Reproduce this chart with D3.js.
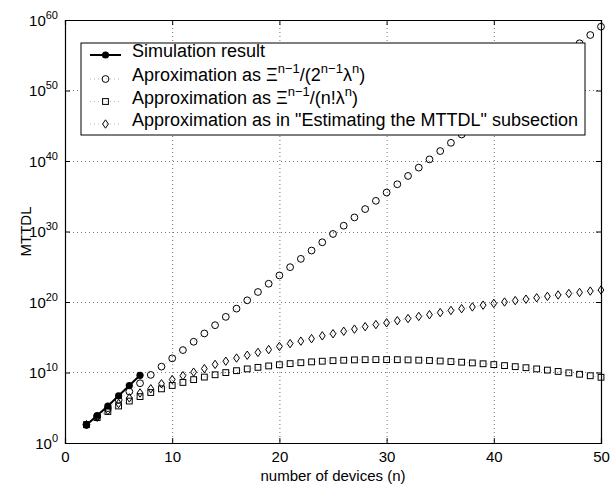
<!DOCTYPE html>
<html>
<head>
<meta charset="utf-8">
<script src="https://cdn.jsdelivr.net/npm/d3@7/dist/d3.min.js"></script>
<style>
  body { margin: 0; background: #fff; }
  svg { display: block; font-family: "Liberation Sans", Arial, Helvetica, sans-serif; }
</style>
</head>
<body>
<svg id="chart" width="610" height="485"></svg>
<script>
// number of devices
const simN = [2, 3, 4, 5, 6, 7];
const approxN = [2, 3, 4, 5, 6, 7, 8, 9, 10, 11, 12, 13, 14, 15, 16, 17, 18, 19, 20,
  21, 22, 23, 24, 25, 26, 27, 28, 29, 30, 31, 32, 33, 34, 35, 36, 37, 38, 39, 40,
  41, 42, 43, 44, 45, 46, 47, 48, 49, 50];

// MTTDL, as powers of ten
const simExp = [2.55, 3.9, 5.25, 6.7, 8.15, 9.6];
const circleExp = [2.60, 3.78, 4.95, 6.13, 7.30, 8.48, 9.66, 10.83, 12.01, 13.18, 14.36,
  15.54, 16.71, 17.89, 19.06, 20.24, 21.42, 22.59, 23.77, 24.94, 26.12, 27.30, 28.47,
  29.65, 30.82, 32.00, 33.18, 34.35, 35.53, 36.70, 37.88, 39.06, 40.23, 41.41, 42.58,
  43.76, 44.94, 46.11, 47.29, 48.46, 49.64, 50.82, 51.99, 53.17, 54.34, 55.52, 56.70,
  57.87, 59.05];
const squareExp = [2.60, 3.60, 4.47, 5.25, 5.95, 6.58, 7.16, 7.68, 8.16, 8.59, 8.99,
  9.35, 9.68, 9.99, 10.26, 10.51, 10.73, 10.93, 11.10, 11.26, 11.39, 11.51, 11.60,
  11.68, 11.74, 11.79, 11.82, 11.83, 11.83, 11.82, 11.79, 11.75, 11.70, 11.63, 11.55,
  11.46, 11.36, 11.24, 11.12, 10.98, 10.83, 10.68, 10.51, 10.34, 10.15, 9.95, 9.75,
  9.54, 9.32];
const diamondExp = [2.6, 3.65, 4.6, 5.6, 6.4, 7.1, 7.7, 8.4, 9.0, 9.55, 10.05, 10.55,
  11.15, 11.6, 12.05, 12.45, 12.85, 13.25, 13.7, 14.1, 14.45, 14.8, 15.2, 15.5, 15.85,
  16.15, 16.5, 16.8, 17.05, 17.35, 17.65, 17.95, 18.2, 18.5, 18.8, 19.05, 19.3, 19.55,
  19.8, 20.0, 20.2, 20.4, 20.6, 20.8, 21.0, 21.2, 21.35, 21.55, 21.7];

const xTicks = [0, 10, 20, 30, 40, 50];
const yTickExp = [0, 10, 20, 30, 40, 50, 60];

const width = 610, height = 485;
const margin = { top: 20, right: 9, bottom: 42, left: 65 };
const innerW = width - margin.left - margin.right;
const innerH = height - margin.top - margin.bottom;

const svg = d3.select('#chart');
const g = svg.append('g').attr('transform', `translate(${margin.left},${margin.top})`);

const x = d3.scaleLinear().domain([0, 50]).range([0, innerW]);
const y = d3.scaleLog().domain([1, 1e60]).range([innerH, 0]);
const pow = e => Math.pow(10, e);

// dotted grid
const grid = g.append('g').attr('class', 'grid')
  .attr('stroke', '#777').attr('stroke-width', 1).attr('stroke-dasharray', '1,3');
grid.selectAll('line.gx')
  .data(xTicks.slice(1, -1))
  .enter().append('line')
  .attr('x1', d => x(d) + 0.5).attr('x2', d => x(d) + 0.5)
  .attr('y1', 0).attr('y2', innerH);
grid.selectAll('line.gy')
  .data(yTickExp.slice(1, -1))
  .enter().append('line')
  .attr('x1', 0).attr('x2', innerW)
  .attr('y1', d => Math.round(y(pow(d))) + 0.5).attr('y2', d => Math.round(y(pow(d))) + 0.5);

// axes, ticks pointing inwards on all four sides
const yTickVals = yTickExp.map(pow);
const xAxis = g.append('g').attr('transform', `translate(0,${innerH})`)
  .call(d3.axisBottom(x).tickValues(xTicks).tickSize(-5).tickPadding(8));
g.append('g').call(d3.axisTop(x).tickValues(xTicks).tickSize(-5).tickFormat(''));
const yAxis = g.append('g')
  .call(d3.axisLeft(y).tickValues(yTickVals).tickSize(-5).tickPadding(8).tickFormat(''));
g.append('g').attr('transform', `translate(${innerW},0)`)
  .call(d3.axisRight(y).tickValues(yTickVals).tickSize(-5).tickFormat(''));

g.selectAll('.domain').attr('stroke', '#000').attr('stroke-width', 1.2);
g.selectAll('.tick line').attr('stroke', '#000');
xAxis.selectAll('text').attr('font-size', 15).attr('fill', '#000')
  .attr('font-family', null);

// y tick labels as 10^k
yAxis.selectAll('.tick').each(function (d) {
  const t = d3.select(this).append('text')
    .attr('x', -7).attr('y', 5)
    .attr('text-anchor', 'end').attr('fill', '#000').attr('font-size', 15);
  t.append('tspan').text('10');
  t.append('tspan').attr('dy', -7).attr('font-size', 11).text(Math.round(Math.log10(d)));
});

// series
const lineGen = (xs, es) => d3.line()
  .x((d, i) => x(xs[i]))
  .y(d => y(pow(d)))(es);

const series = g.append('g').attr('class', 'series');

function dotted(es) {
  series.append('path')
    .attr('d', lineGen(approxN, es))
    .attr('fill', 'none').attr('stroke', '#999')
    .attr('stroke-width', 0.7).attr('stroke-dasharray', '1,3');
}
dotted(circleExp);
dotted(squareExp);
dotted(diamondExp);

series.append('path')
  .attr('d', lineGen(simN, simExp))
  .attr('fill', 'none').attr('stroke', '#000').attr('stroke-width', 2);
series.selectAll('circle.sim')
  .data(simExp)
  .enter().append('circle')
  .attr('cx', (d, i) => x(simN[i])).attr('cy', d => y(pow(d)))
  .attr('r', 3.6).attr('fill', '#000');

const markStyle = sel => sel.attr('fill', 'none').attr('stroke', '#000').attr('stroke-width', 1);

markStyle(series.selectAll('circle.c')
  .data(circleExp)
  .enter().append('circle')
  .attr('cx', (d, i) => x(approxN[i])).attr('cy', d => y(pow(d)))
  .attr('r', 3.4));

markStyle(series.selectAll('rect.s')
  .data(squareExp)
  .enter().append('rect')
  .attr('x', (d, i) => x(approxN[i]) - 2.9).attr('y', d => y(pow(d)) - 2.9)
  .attr('width', 5.8).attr('height', 5.8));

const diamondPath = 'M0,-4.2L2.9,0L0,4.2L-2.9,0Z';
markStyle(series.selectAll('path.d')
  .data(diamondExp)
  .enter().append('path')
  .attr('transform', (d, i) => `translate(${x(approxN[i])},${y(pow(d))})`)
  .attr('d', diamondPath));

// axis titles
svg.append('text')
  .attr('x', margin.left + innerW / 2).attr('y', 481)
  .attr('text-anchor', 'middle').attr('font-size', 15)
  .text('number of devices (n)');
svg.append('text')
  .attr('transform', `translate(31,${margin.top + innerH / 2}) rotate(-90)`)
  .attr('text-anchor', 'middle').attr('font-size', 15)
  .text('MTTDL');

// legend
const legend = svg.append('g').attr('transform', 'translate(81,43)');
legend.append('rect')
  .attr('width', 504).attr('height', 92)
  .attr('fill', '#fff').attr('stroke', '#000').attr('stroke-width', 1);

const rowY = [12, 36, 58.5, 81];
const sampleX0 = 9, sampleX1 = 40, sampleMid = 24.5, textX = 51;

legend.append('line')
  .attr('x1', sampleX0).attr('x2', sampleX1).attr('y1', rowY[0]).attr('y2', rowY[0])
  .attr('stroke', '#000').attr('stroke-width', 2);
legend.append('circle').attr('cx', sampleMid).attr('cy', rowY[0]).attr('r', 3.6).attr('fill', '#000');

[1, 2, 3].forEach(k => {
  legend.append('line')
    .attr('x1', sampleX0).attr('x2', sampleX1).attr('y1', rowY[k]).attr('y2', rowY[k])
    .attr('stroke', '#999').attr('stroke-width', 0.7).attr('stroke-dasharray', '1,3');
});
markStyle(legend.append('circle').attr('cx', sampleMid).attr('cy', rowY[1]).attr('r', 3.4));
markStyle(legend.append('rect').attr('x', sampleMid - 2.9).attr('y', rowY[2] - 2.9)
  .attr('width', 5.8).attr('height', 5.8));
markStyle(legend.append('path').attr('transform', `translate(${sampleMid},${rowY[3]})`)
  .attr('d', diamondPath));

const labels = [
  [['Simulation result']],
  [['Aproximation as \u039E'], ['n\u22121', 1], ['/(2'], ['n\u22121', 1], ['\u03BB'], ['n', 1], [')']],
  [['Approximation as \u039E'], ['n\u22121', 1], ['/(n!\u03BB'], ['n', 1], [')']],
  [['Approximation as in "Estimating the MTTDL" subsection']]
];
labels.forEach((parts, k) => {
  const t = legend.append('text')
    .attr('x', textX).attr('y', rowY[k] + 2).attr('font-size', 18).attr('fill', '#000');
  let raised = false;
  parts.forEach(([s, sup]) => {
    const sp = t.append('tspan').text(s);
    if (sup && !raised) { sp.attr('dy', -8).attr('font-size', 13); raised = true; }
    else if (sup) { sp.attr('font-size', 13); }
    else if (raised) { sp.attr('dy', 8); raised = false; }
  });
});
</script>
</body>
</html>
